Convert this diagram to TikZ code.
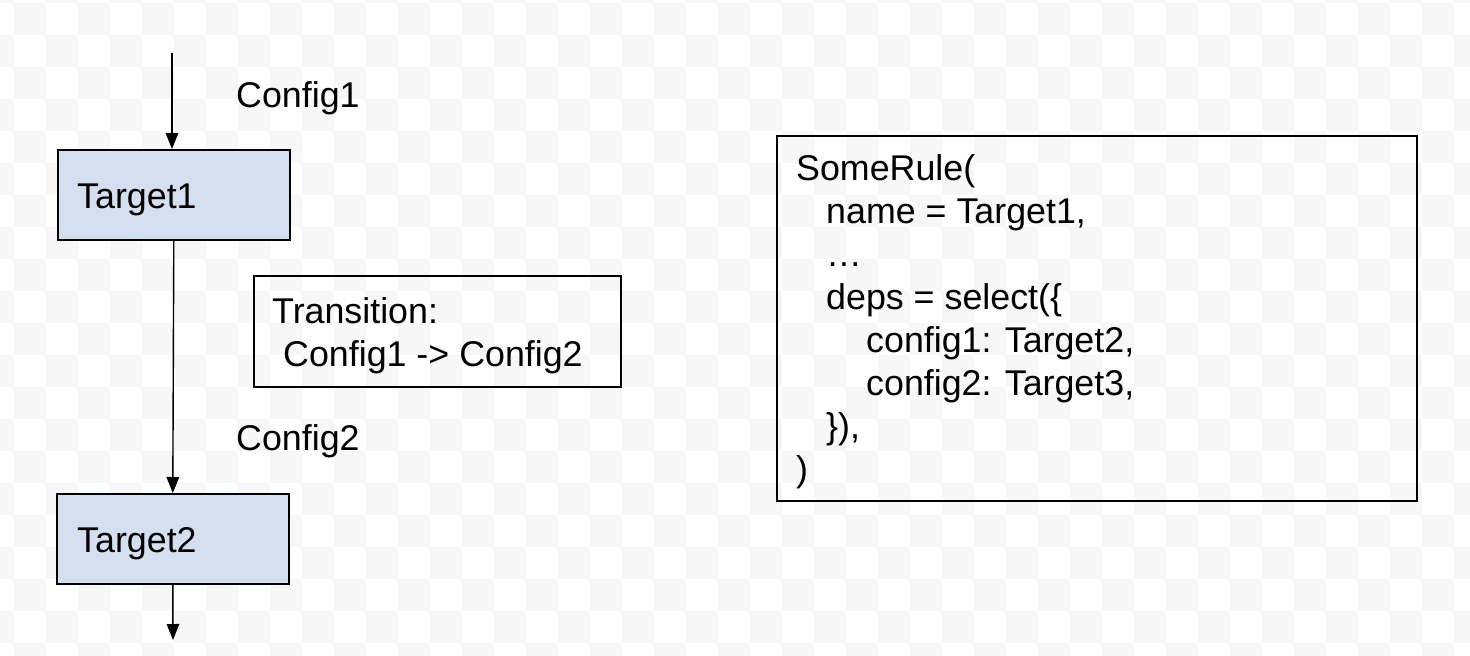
\documentclass[tikz,border=0pt]{standalone}
\usepackage{fontspec}
\setmainfont{Liberation Sans}
\usetikzlibrary{arrows.meta}
\definecolor{chk}{RGB}{247,247,247}
\definecolor{tfill}{RGB}{212,224,240}
\tikzset{
  tbox/.style={draw=black, line width=1.6pt, fill=tfill, minimum width=232pt, minimum height=90pt, inner sep=0pt, anchor=north west},
  wbox/.style={draw=black, line width=1.6pt, fill=none, inner sep=0pt, anchor=north west},
  lbl/.style={inner sep=0pt, anchor=base west, font=\fontsize{35.8}{43}\selectfont},
  conn/.style={line width=1.4pt, -{Triangle[width=12.5pt,length=16pt]}}
}
\begin{document}
\begin{tikzpicture}[x=1pt,y=-1pt]
\useasboundingbox (0,0) rectangle (1470,656);
% checkerboard background
\begin{scope}
\clip (0,0) rectangle (1470,656);
\fill[white] (0,0) rectangle (1470,656);
\foreach \i in {-1,...,46}{
  \foreach \j in {-1,...,20}{
    \pgfmathtruncatemacro\chkpar{mod(\i+\j+2,2)}
    \ifnum\chkpar=0
      \fill[chk] ({14+32*\i},{3+32*\j}) rectangle ++(32,32);
    \fi
  }
}
\end{scope}
% left chain
\coordinate (a0) at (172,53);
\node[tbox] (t1) at (57,149) {};
\node[lbl] (t1txt) at (77,208) {Target1};
\node[lbl] (c1) at (236,107) {Config1};
\node[tbox] (t2) at (56,493) {};
\node[lbl] (t2txt) at (77,552) {Target2};
\node[lbl] (c2) at (236,450) {Config2};
\coordinate (a3) at (173,640);
\draw[conn] (a0) -- (a0 |- t1.north);
\draw[conn] (t1.south) -- (t2.north);
\draw[conn] (t2.south) -- (a3);
% transition box
\node[wbox, minimum width=367pt, minimum height=111pt] (tr) at (253,275) {};
\node[lbl] (tr1) at (272,323) {Transition:};
\node[lbl] (tr2) at (283,366) {Config1 -> Config2};
% code box
\node[wbox, minimum width=640pt, minimum height=365pt] (code) at (776,135) {};
\node[lbl] (k1) at (796,180) {SomeRule(};
\node[lbl] (k2) at (826,223) {name = Target1,};
\node[lbl] (k3) at (826,266) {…};
\node[lbl] (k4) at (826,309) {deps = select(\{};
\node[lbl] (k5) at (866,352) {config1: Target2,};
\node[lbl] (k6) at (866,395) {config2: Target3,};
\node[lbl] (k7) at (826,438) {\}),};
\node[lbl] (k8) at (796,481) {)};
\end{tikzpicture}
\end{document}
